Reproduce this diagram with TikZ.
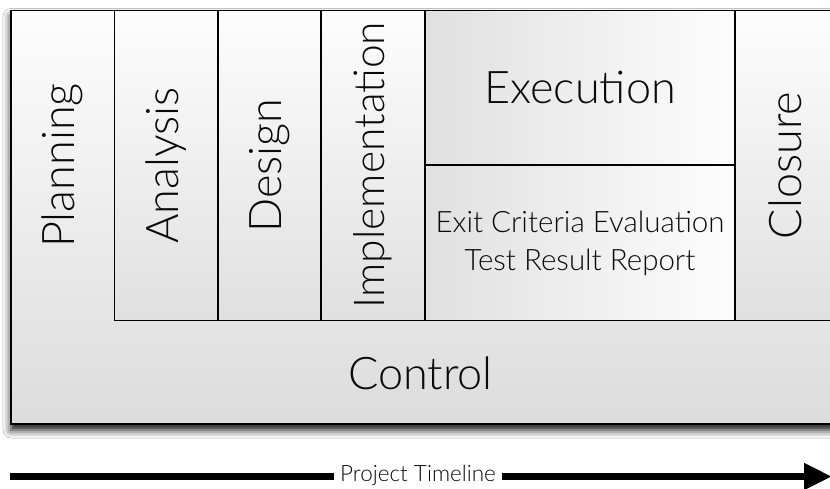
\documentclass[tikz,border=0pt]{standalone}
\usepackage{fontspec}
\setmainfont{Lato}[UprightFont=* Light]
\usetikzlibrary{arrows.meta,shadows.blur}
\definecolor{paneltop}{HTML}{FDFDFD}
\definecolor{panelbot}{HTML}{DCDCDC}
\definecolor{colbot}{HTML}{E0E0E0}
\definecolor{inkc}{HTML}{0A0A0A}
\tikzset{
  framebox/.style={draw=black, line width=1.3pt, top color=paneltop, bottom color=panelbot,
    blur shadow={shadow xshift=0pt, shadow yshift=-6pt, shadow blur radius=8pt, shadow opacity=95}},
  colbox/.style={draw=black, line width=1.1pt, top color=paneltop, bottom color=colbot},
  rowbox/.style={draw=black, line width=1.1pt, left color=colbot, right color=paneltop},
  biglabel/.style={text=inkc, inner sep=0pt, font=\fontsize{45}{52}\selectfont},
  longlabel/.style={text=inkc, inner sep=0pt, font=\fontsize{42.5}{50}\selectfont},
  midlabel/.style={text=inkc, inner sep=0pt, align=center, font=\fontsize{29.5}{38}\selectfont},
  smalllabel/.style={text=inkc, fill=white, inner xsep=6pt, inner ysep=2pt, font=\fontsize{22.5}{26}\selectfont},
  timeline/.style={draw=black, line width=7pt, -{Triangle[length=28pt,width=25pt]}}
}
\begin{document}
\begin{tikzpicture}[x=1pt,y=-1pt]
\clip (0,0) rectangle (830,489);
\fill[white] (0,0) rectangle (830,489);

% outer frame: planning column and control band
\path[framebox] (11,10.5) rectangle (836,424);

% phase columns
\path[colbox] (114.5,10.5) rectangle (218,320.5);
\path[colbox] (218,10.5) rectangle (321,320.5);
\path[colbox] (321,10.5) rectangle (425,320.5);
\path[rowbox] (425,10.5) rectangle (735,165);
\path[rowbox] (425,165) rectangle (735,320.5);
\path[colbox] (735,10.5) rectangle (836,320.5);

% labels
\node[biglabel, rotate=90] (planning) at (62.5,165.5) {Planning};
\node[biglabel, rotate=90] (analysis) at (166,165.5) {Analysis};
\node[biglabel, rotate=90] (design) at (269.5,165.5) {Design};
\node[longlabel, rotate=90] (implementation) at (373,165) {Implementation};
\node[biglabel] (execution) at (580,87.5) {Execution};
\node[midlabel] (exitcrit) at (580,243) {Exit Criteria Evaluation\\Test Result Report};
\node[biglabel, rotate=90] (closure) at (785,165.5) {Closure};
\node[biglabel] (control) at (420.5,373) {Control};

% project timeline arrow
\coordinate (tlstart) at (10,476.5);
\coordinate (tlend) at (832,476.5);
\draw[timeline] (tlstart) -- (tlend);
\node[smalllabel] (tltext) at (418,475) {Project Timeline};
\end{tikzpicture}
\end{document}
